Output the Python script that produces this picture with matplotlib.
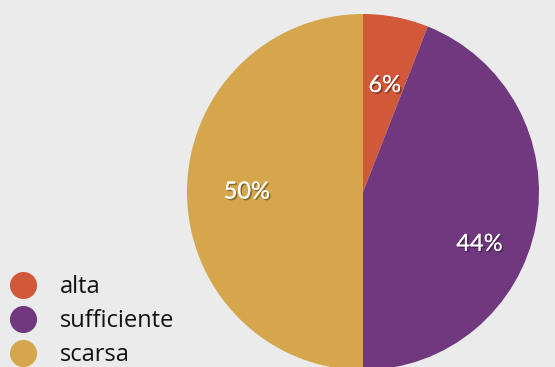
import matplotlib
matplotlib.use("Agg")
import matplotlib.pyplot as plt
import matplotlib.patheffects as pe
from matplotlib.lines import Line2D

categories = ["alta", "sufficiente", "scarsa"]
values = [6, 44, 50]
colors = ["#d2583a", "#70397f", "#d5a64c"]

W, H = 555, 367
fig = plt.figure(figsize=(W / 100, H / 100), dpi=100)
fig.patch.set_facecolor("#ebebeb")
plt.rcParams["font.family"] = ["Lato", "DejaVu Sans"]

# pie ellipse in pixel geometry
cx, cy, rx, ry = 363, 192, 176, 178
ax = fig.add_axes([(cx - rx) / W, (H - cy - ry) / H, 2 * rx / W, 2 * ry / H])
wedges, texts, autotexts = ax.pie(
    values, colors=colors, startangle=90, counterclock=False,
    autopct=lambda p: f"{p:.0f}%", pctdistance=0.66,
    wedgeprops=dict(linewidth=0),
    textprops=dict(color="white", fontsize=17),
)
ax.set_aspect("auto")
ax.set_xlim(-1, 1)
ax.set_ylim(-1, 1)
for t in autotexts:
    t.set_path_effects([pe.withSimplePatchShadow(offset=(1.2, -1.2), shadow_rgbFace="black", alpha=0.35), pe.Normal()])
# adjust label placement like reference
x, y = autotexts[1].get_position()
autotexts[1].set_position((x * 1.02, y - 0.17))
x, y = autotexts[0].get_position()
autotexts[0].set_position((x, y - 0.05))

handles = [Line2D([], [], marker="o", linestyle="none", markersize=19.5,
                  markerfacecolor=c, markeredgewidth=0) for c in colors]
leg = fig.legend(handles, categories, loc="lower left",
                 bbox_to_anchor=(0.012, 0.0), frameon=False,
                 prop=dict(family=["Open Sans", "DejaVu Sans"], size=17),
                 labelspacing=0.42, handletextpad=0.85,
                 borderpad=0.0, handlelength=1.4, borderaxespad=0)
for t in leg.get_texts():
    t.set_color("#111111")

fig.savefig("out.png", dpi=100, facecolor=fig.get_facecolor())
